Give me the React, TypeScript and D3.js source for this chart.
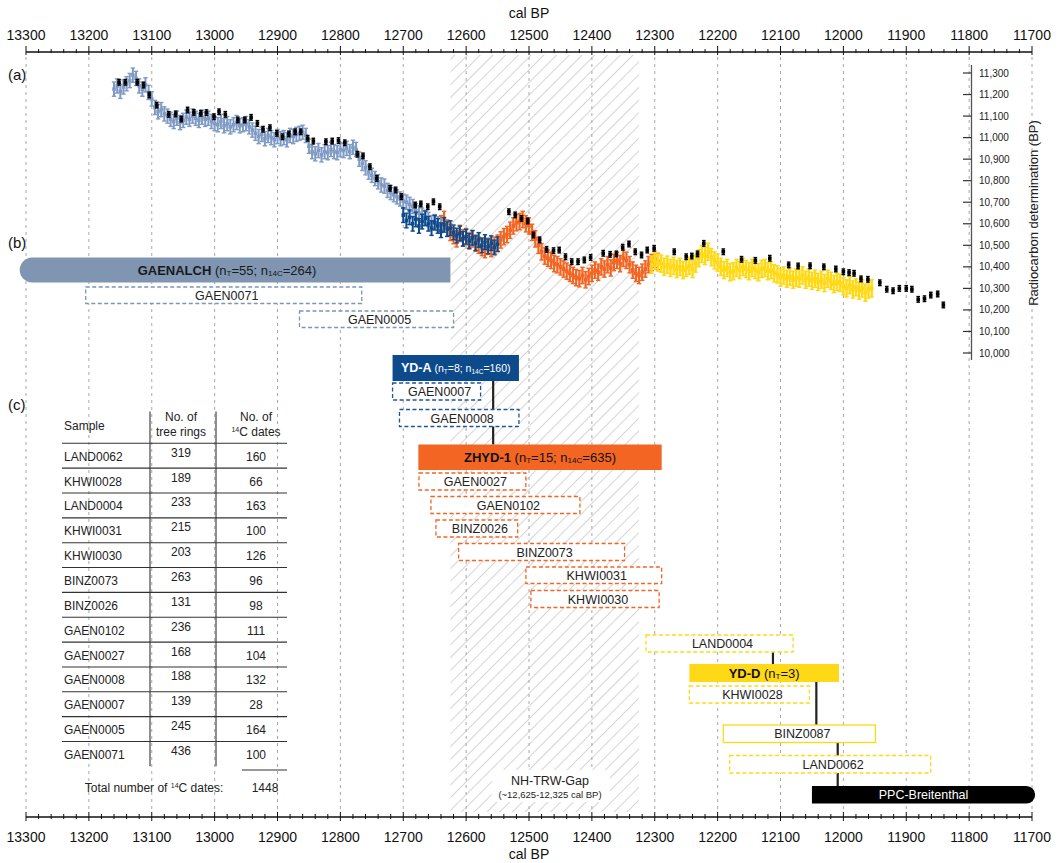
import React from 'react';
import * as d3 from 'd3';

// ---------- axis ticks ----------
const calMajorTicks = d3.range(13300, 11699, -100);
const calMinorTicks = d3.range(13300, 11699, -20);
const c14Ticks = d3.range(10000, 11301, 100);

// ---------- panel (a) data (cal BP start, step 5 yr) ----------
const gaenalchStart = 13160;
const gaenalchValues = [
  11225, 11240, 11215, 11235, 11250, 11265,
  11290, 11275, 11240, 11225, 11245, 11210, 11180,
  11140, 11120, 11130, 11110, 11100, 11085, 11075, 11090, 11070,
  11080, 11095, 11085, 11100, 11090, 11080, 11095, 11085, 11090, 11075,
  11065, 11060, 11075, 11055, 11065, 11050, 11060, 11070, 11055, 11060, 11065, 11050,
  11035, 11020, 11005, 11015, 10995, 11010, 11000, 10990, 11005, 10995, 11000, 10990, 11010, 11005, 11015, 11020, 11025, 11010,
  10960, 10935, 10925, 10940, 10920, 10935, 10930, 10945, 10935, 10930, 10945, 10940, 10950, 10935, 10955, 10945,
  10900, 10880, 10860, 10840, 10825, 10810, 10795, 10780, 10775, 10755, 10745, 10735, 10725, 10715, 10705, 10700, 10690, 10680, 10660, 10650, 10640, 10630, 10620, 10605, 10610, 10600, 10590,
];

const ydaStart = 12700;
const ydaValues = [
  10640, 10615, 10630, 10600, 10620, 10590, 10610, 10625, 10600, 10580,
  10605, 10590, 10570, 10595, 10575, 10580, 10560, 10545, 10555, 10530,
  10540, 10520, 10535, 10510, 10525, 10500, 10515, 10495, 10510, 10490, 10505,
];

const zhydStart = 12640;
const zhydValues = [
  10600, 10620, 10580, 10560, 10545, 10530, 10555, 10535, 10540, 10520,
  10530, 10510, 10500, 10490, 10480, 10495, 10485, 10500, 10510, 10525,
  10540, 10550, 10570, 10590, 10605, 10610, 10620, 10600, 10590, 10560,
  10530, 10500, 10470, 10450, 10440, 10430, 10415, 10410, 10400, 10390,
  10380, 10370, 10360, 10350, 10345, 10360, 10340, 10355, 10370, 10385,
  10375, 10400, 10390, 10410, 10395, 10420, 10430, 10415, 10440, 10430,
  10410, 10385, 10370, 10360, 10375, 10390, 10410, 10420, 10435, 10425,
];

const yddStart = 12305;
const yddValues = [
  10410, 10430, 10420, 10415, 10400, 10410, 10395, 10405, 10390, 10400,
  10385, 10395, 10405, 10390, 10415, 10440, 10460, 10450, 10470, 10445,
  10430, 10420, 10400, 10385, 10395, 10375, 10380, 10395, 10385, 10400,
  10390, 10380, 10395, 10385, 10375, 10390, 10395, 10380, 10385, 10370,
  10365, 10350, 10360, 10345, 10355, 10340, 10350, 10345, 10360, 10340,
  10350, 10335, 10345, 10330, 10340, 10325, 10345, 10335, 10320, 10330,
  10325, 10310, 10300, 10315, 10295, 10305, 10290, 10300, 10280, 10295, 10300,
];

const intcalYears = [
  13152, 13142, 13123, 13113, 13104, 13092, 13073, 13062, 13053, 13043,
  13033, 13022, 13013, 13001, 12993, 12983, 12963, 12952, 12942, 12932,
  12923, 12912, 12901, 12892, 12882, 12872, 12863, 12852, 12843, 12823,
  12813, 12803, 12793, 12773, 12764, 12753, 12742, 12721, 12712, 12703,
  12681, 12672, 12661, 12652, 12642, 12532, 12522, 12512, 12502, 12493,
  12483, 12472, 12461, 12452, 12442, 12432, 12422, 12412, 12402, 12382,
  12371, 12361, 12351, 12341, 12331, 12321, 12312, 12301, 12269, 12250,
  12241, 12232, 12222, 12191, 12162, 12140, 12117, 12087, 12072, 12053,
  12031, 12012, 12000, 11991, 11983, 11972, 11961, 11942, 11931, 11921,
  11911, 11900, 11891, 11881, 11871, 11861, 11850, 11841,
];
const intcalValues = [
  11257, 11257, 11257, 11244, 11198, 11151, 11108, 11110, 11086, 11128,
  11117, 11113, 11116, 11097, 11120, 11108, 11082, 11082, 11094, 11066,
  11039, 11046, 11020, 11004, 11017, 11027, 11027, 10997, 10984, 10981,
  10984, 10986, 10976, 10923, 10915, 10865, 10811, 10765, 10757, 10726,
  10687, 10692, 10679, 10702, 10679, 10656, 10641, 10625, 10613, 10548,
  10525, 10481, 10475, 10478, 10447, 10424, 10424, 10432, 10444, 10463,
  10458, 10460, 10491, 10506, 10470, 10455, 10478, 10486, 10470, 10447,
  10450, 10460, 10509, 10470, 10435, 10430, 10440, 10409, 10404, 10405,
  10400, 10390, 10377, 10373, 10370, 10344, 10342, 10326, 10296, 10289,
  10300, 10300, 10296, 10249, 10252, 10269, 10274, 10223,
];

// ---------- panels (b)/(c) : sample coverage (cal BP) ----------
const sampleNames = [
  'GAENALCH', 'GAEN0071', 'GAEN0005',
  'YD-A', 'GAEN0007', 'GAEN0008',
  'ZHYD-1', 'GAEN0027', 'GAEN0102', 'BINZ0026', 'BINZ0073', 'KHWI0031', 'KHWI0030',
  'LAND0004', 'YD-D', 'KHWI0028', 'BINZ0087', 'LAND0062', 'PPC-Breitenthal',
];
const sampleFrom = [
  13310, 13205, 12865,
  12717, 12717, 12706,
  12676, 12675, 12656, 12648, 12612, 12505, 12497,
  12314, 12245, 12245, 12191, 12181, 12050,
];
const sampleTo = [
  12625, 12766, 12620,
  12516, 12577, 12516,
  12289, 12505, 12419, 12518, 12348, 12289, 12293,
  12080, 12007, 12054, 11949, 11861, 11695,
];
const connectorYears = [12557, 12112, 12043, 12009];

// ---------- table (c) ----------
const tableSamples = ['LAND0062', 'KHWI0028', 'LAND0004', 'KHWI0031', 'KHWI0030', 'BINZ0073', 'BINZ0026', 'GAEN0102', 'GAEN0027', 'GAEN0008', 'GAEN0007', 'GAEN0005', 'GAEN0071'];
const tableRings = [319, 189, 233, 215, 203, 263, 131, 236, 168, 188, 139, 245, 436];
const tableDates = [160, 66, 163, 100, 126, 96, 98, 111, 104, 132, 28, 164, 100];
const totalDates = 1448;

// ---------- layout / styles ----------
const FONT = '"Liberation Sans", Arial, sans-serif';
const C_LIGHT = '#7f9bc4';
const C_GAEN = '#7f95b1';
const C_DARK = '#0d4a8c';
const C_ORANGE = '#f26522';
const C_YELLOW = '#ffd915';

// vertical placement of each coverage bar: [top, height]
const rowLayout: Record<string, [number, number]> = {
  'GAENALCH': [257.5, 25], 'GAEN0071': [287, 16.5], 'GAEN0005': [311, 16.5],
  'YD-A': [355, 26], 'GAEN0007': [383, 17], 'GAEN0008': [409.5, 17],
  'ZHYD-1': [444.5, 25.5], 'GAEN0027': [473, 17], 'GAEN0102': [496.5, 17], 'BINZ0026': [520, 17],
  'BINZ0073': [543.5, 17], 'KHWI0031': [567, 16.5], 'KHWI0030': [590.5, 17],
  'LAND0004': [635, 17], 'YD-D': [664, 18], 'KHWI0028': [686, 17], 'BINZ0087': [725, 17.5],
  'LAND0062': [755.5, 17.5], 'PPC-Breitenthal': [786, 17.5],
};
const connectorSpans: [number, number][] = [[381, 444.5], [652, 664], [682, 725], [742.5, 786]];

const x = d3.scaleLinear().domain([13300, 11700]).range([26, 1032]);
const y = d3.scaleLinear().domain([10000, 11300]).range([353, 73]);

function seriesPoints(start: number, values: number[]) {
  return values.map((v, i) => ({ t: start - i * 5, v }));
}

function Points({ data, color, sigma, size, lw, cap }: { data: { t: number; v: number }[]; color: string; sigma: number; size: number; lw: number; cap: number }) {
  return (
    <g>
      {data.map((d, i) => {
        const cx = x(d.t);
        const cy = y(d.v);
        const y0 = y(d.v + sigma);
        const y1 = y(d.v - sigma);
        return (
          <g key={i}>
            <line x1={cx} x2={cx} y1={y0} y2={y1} stroke={color} strokeWidth={lw} />
            <line x1={cx - cap} x2={cx + cap} y1={y0} y2={y0} stroke={color} strokeWidth={1.4} />
            <line x1={cx - cap} x2={cx + cap} y1={y1} y2={y1} stroke={color} strokeWidth={1.4} />
            <rect x={cx - size / 2} y={cy - size / 2} width={size} height={size} fill={color} />
          </g>
        );
      })}
    </g>
  );
}

function SubLabel({ cx, cy, bold, parts, color, size, small }: { cx: number; cy: number; bold: string; parts: [string, string][]; color: string; size: number; small?: number }) {
  const ps = small || size;
  return (
    <text x={cx} y={cy} textAnchor="middle" dominantBaseline="central" fill={color} fontFamily={FONT} fontSize={size}>
      <tspan fontWeight="bold">{bold}</tspan>
      {parts.map((p, i) => (
        <React.Fragment key={i}>
          <tspan fontSize={ps} dy={i === 0 ? 0 : -3}>{p[0]}</tspan>
          {p[1] ? <tspan fontSize={ps * 0.62} dy={3}>{p[1]}</tspan> : null}
        </React.Fragment>
      ))}
    </text>
  );
}

export default function App() {
  const bars = sampleNames.map((name, i) => ({ name, from: sampleFrom[i], to: sampleTo[i] }));
  const hx0 = x(12625);
  const hx1 = x(12325);

  const barOf = (name: string) => {
    const b = bars.find((d) => d.name === name)!;
    const [top, h] = rowLayout[name];
    return { x0: x(b.from), x1: x(b.to), top, h };
  };
  const dashed = (name: string, color: string, solid = false) => {
    const { x0, x1, top, h } = barOf(name);
    return (
      <g key={name}>
        <rect x={x0} y={top} width={x1 - x0} height={h} fill="#fff" stroke={color} strokeWidth={1.3} strokeDasharray={solid ? undefined : '4 2.5'} />
        <text x={(x0 + x1) / 2 + 3} y={top + h / 2 + 0.5} textAnchor="middle" dominantBaseline="central" fontFamily={FONT} fontSize={12.5} fill="#222">{name}</text>
      </g>
    );
  };
  const filled = (name: string, color: string) => {
    const { x0, x1, top, h } = barOf(name);
    return <rect key={name} x={x0} y={top} width={x1 - x0} height={h} fill={color} />;
  };

  const gae = barOf('GAENALCH');
  const ppc = barOf('PPC-Breitenthal');
  const yda = barOf('YD-A');
  const zhyd = barOf('ZHYD-1');
  const ydd = barOf('YD-D');
  const gr = gae.h / 2;
  const pr = ppc.h / 2;

  const tableLeft = 62, tableRight = 287, col1 = 150, col2 = 216;
  const headTop = 411.5, headBottom = 443.3, rowH = 24.85;

  return (
    <svg width={1060} height={863} style={{ position: 'absolute', left: 0, top: 0, background: '#fff' }} fontFamily={FONT}>
      <defs>
        <pattern id="hatch" width={9} height={9} patternUnits="userSpaceOnUse" patternTransform="rotate(45)">
          <line x1={0} y1={0} x2={0} y2={9} stroke="#ababab" strokeWidth={1} />
        </pattern>
      </defs>
      <rect x={0} y={0} width={1060} height={863} fill="#fff" />

      {/* hatch gap */}
      <rect x={hx0} y={55} width={hx1 - hx0} height={757} fill="url(#hatch)" />

      {/* grid */}
      {calMajorTicks.map((t) => (
        <line key={t} x1={x(t)} x2={x(t)} y1={57} y2={812} stroke="#a8a8a8" strokeWidth={1} strokeDasharray="3 4" />
      ))}

      {/* top axis */}
      <line x1={x(13300)} x2={x(11700)} y1={52} y2={52} stroke="#111" strokeWidth={1.3} />
      {calMinorTicks.map((t) => (
        <line key={t} x1={x(t)} x2={x(t)} y1={t % 100 === 0 ? 46 : 49} y2={t % 100 === 0 ? 55 : 53} stroke="#111" strokeWidth={1} />
      ))}
      {calMajorTicks.map((t) => (
        <text key={t} x={x(t)} y={40} textAnchor="middle" fontSize={14} fill="#111">{t}</text>
      ))}
      <text x={x(12500)} y={18} textAnchor="middle" fontSize={14} fill="#111">cal BP</text>

      {/* bottom axis */}
      <line x1={x(13300)} x2={x(11700)} y1={817} y2={817} stroke="#111" strokeWidth={1.3} />
      {calMinorTicks.map((t) => (
        <line key={t} x1={x(t)} x2={x(t)} y1={t % 100 === 0 ? 812 : 814} y2={t % 100 === 0 ? 821 : 819} stroke="#111" strokeWidth={1} />
      ))}
      {calMajorTicks.map((t) => (
        <text key={t} x={x(t)} y={842} textAnchor="middle" fontSize={14} fill="#111">{t}</text>
      ))}
      <text x={x(12500)} y={859} textAnchor="middle" fontSize={14} fill="#111">cal BP</text>

      {/* right y axis */}
      <line x1={971.5} x2={971.5} y1={65} y2={360} stroke="#555" strokeWidth={1.3} />
      {c14Ticks.map((v) => (
        <g key={v}>
          <line x1={963} x2={971.5} y1={y(v)} y2={y(v)} stroke="#333" strokeWidth={1.2} />
          <text x={979} y={y(v)} dominantBaseline="central" fontSize={10} fill="#222">{d3.format(',')(v)}</text>
        </g>
      ))}
      <text transform={`translate(1033,${y(10650)}) rotate(-90)`} textAnchor="middle" dominantBaseline="central" fontSize={13} fill="#222">Radiocarbon determination (BP)</text>

      {/* panel labels */}
      <text x={8} y={80} fontSize={15} fill="#111">(a)</text>
      <text x={8} y={248} fontSize={15} fill="#111">(b)</text>
      <text x={8} y={410} fontSize={15} fill="#111">(c)</text>

      {/* radiocarbon data */}
      <Points data={seriesPoints(zhydStart, zhydValues)} color={C_ORANGE} sigma={38} size={3.8} lw={2.2} cap={2.2} />
      <Points data={seriesPoints(gaenalchStart, gaenalchValues)} color={C_LIGHT} sigma={33} size={3.6} lw={2} cap={2.2} />
      <Points data={seriesPoints(ydaStart, ydaValues)} color={C_DARK} sigma={34} size={3.6} lw={2} cap={2.2} />
      <Points data={seriesPoints(yddStart, yddValues)} color={C_YELLOW} sigma={40} size={3.8} lw={2.4} cap={2.2} />
      <Points data={intcalYears.map((t, i) => ({ t, v: intcalValues[i] }))} color="#000" sigma={13} size={3.6} lw={1.6} cap={1.8} />

      {/* panel (b) */}
      <path d={`M${gae.x0 + gr},${gae.top} H${gae.x1} V${gae.top + gae.h} H${gae.x0 + gr} A${gr},${gr} 0 0 1 ${gae.x0 + gr},${gae.top} Z`} fill={C_GAEN} />
      <SubLabel cx={227} cy={gae.top + gae.h / 2} bold="GAENALCH" parts={[[' (n', 'T'], ['=55; n', '14C'], ['=264)', '']]} color="#1a1a1a" size={13} />
      {dashed('GAEN0071', C_GAEN)}
      {dashed('GAEN0005', C_GAEN)}

      {/* connectors */}
      {connectorYears.map((t, i) => (
        <line key={t} x1={x(t)} x2={x(t)} y1={connectorSpans[i][0]} y2={connectorSpans[i][1]} stroke="#222" strokeWidth={2.2} />
      ))}

      {/* panel (c) YD-A */}
      {filled('YD-A', C_DARK)}
      <SubLabel cx={(yda.x0 + yda.x1) / 2} cy={yda.top + yda.h / 2} bold="YD-A" parts={[[' (n', 'T'], ['=8; n', '14C'], ['=160)', '']]} color="#fff" size={12.5} small={10.5} />
      {dashed('GAEN0007', '#1f5598')}
      {dashed('GAEN0008', '#1f5598')}

      {/* ZHYD-1 */}
      {filled('ZHYD-1', C_ORANGE)}
      <SubLabel cx={(zhyd.x0 + zhyd.x1) / 2} cy={zhyd.top + zhyd.h / 2} bold="ZHYD-1" parts={[[' (n', 'T'], ['=15; n', '14C'], ['=635)', '']]} color="#111" size={13} />
      {['GAEN0027', 'GAEN0102', 'BINZ0026', 'BINZ0073', 'KHWI0031', 'KHWI0030'].map((n) => dashed(n, C_ORANGE))}

      {/* YD-D */}
      {dashed('LAND0004', C_YELLOW)}
      {filled('YD-D', C_YELLOW)}
      <SubLabel cx={(ydd.x0 + ydd.x1) / 2} cy={ydd.top + ydd.h / 2} bold="YD-D" parts={[[' (n', 'T'], ['=3)', '']]} color="#111" size={13} />
      {dashed('KHWI0028', C_YELLOW)}
      {dashed('BINZ0087', C_YELLOW, true)}
      {dashed('LAND0062', C_YELLOW)}

      {/* PPC */}
      <path d={`M${ppc.x0},${ppc.top} H${ppc.x1 - pr} A${pr},${pr} 0 0 1 ${ppc.x1 - pr},${ppc.top + ppc.h} H${ppc.x0} Z`} fill="#000" />
      <text x={(ppc.x0 + ppc.x1) / 2} y={ppc.top + ppc.h / 2 + 0.5} textAnchor="middle" dominantBaseline="central" fontSize={12.5} fill="#fff">PPC-Breitenthal</text>

      {/* gap label */}
      <rect x={492} y={770} width={118} height={32} fill="#fff" />
      <text x={550} y={781} textAnchor="middle" dominantBaseline="central" fontSize={12.5} fill="#222">NH-TRW-Gap</text>
      <text x={550} y={794} textAnchor="middle" dominantBaseline="central" fontSize={9.5} fill="#222">(~12,625-12,325 cal BP)</text>

      {/* table */}
      <g fill="#222" fontSize={12}>
        <text x={64} y={426} dominantBaseline="central">Sample</text>
        <text x={181} y={417} textAnchor="middle" dominantBaseline="central">No. of</text>
        <text x={181} y={432} textAnchor="middle" dominantBaseline="central">tree rings</text>
        <text x={256} y={417} textAnchor="middle" dominantBaseline="central">No. of</text>
        <text x={256} y={432} textAnchor="middle" dominantBaseline="central">
          <tspan fontSize={7} dy={-3}>14</tspan><tspan dy={3}>C dates</tspan>
        </text>
        <line x1={col1} x2={col1} y1={headTop} y2={headBottom + rowH * tableSamples.length} stroke="#333" strokeWidth={1.1} />
        <line x1={col2} x2={col2} y1={headTop} y2={headBottom + rowH * tableSamples.length} stroke="#333" strokeWidth={1.1} />
        {tableSamples.map((s, i) => {
          const top = headBottom + rowH * i;
          return (
            <g key={s}>
              <line x1={tableLeft} x2={tableRight} y1={top} y2={top} stroke="#333" strokeWidth={1.1} />
              <text x={64} y={top + rowH / 2 + 1} dominantBaseline="central">{s}</text>
              <text x={181} y={top + rowH / 2 - 3} textAnchor="middle" dominantBaseline="central">{tableRings[i]}</text>
              <text x={256} y={top + rowH / 2 + 1} textAnchor="middle" dominantBaseline="central">{tableDates[i]}</text>
            </g>
          );
        })}
        <line x1={242} x2={287} y1={770} y2={770} stroke="#333" strokeWidth={1.1} />
        <text x={154} y={788} textAnchor="middle" dominantBaseline="central">
          Total number of <tspan fontSize={7} dy={-3}>14</tspan><tspan dy={3}>C dates:</tspan>
        </text>
        <text x={265} y={788} textAnchor="middle" dominantBaseline="central">{totalDates}</text>
      </g>
    </svg>
  );
}
